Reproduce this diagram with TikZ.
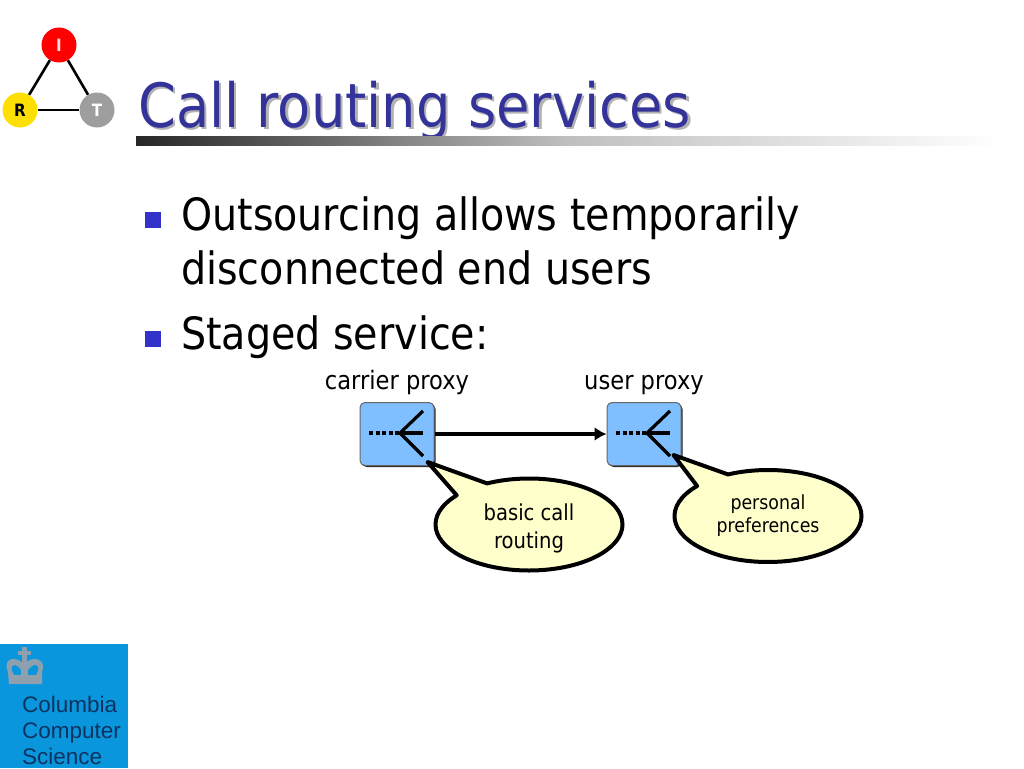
\documentclass[tikz,border=0pt]{standalone}
\usepackage{fontspec}
\setmainfont{DejaVu Sans}[FakeStretch=0.89]
\newfontfamily\logofont{Liberation Sans}
\usepackage{tikz}
\usetikzlibrary{arrows.meta, positioning, shapes.callouts, shapes.geometric, shadows, calc}
\usepackage{xcolor}
\definecolor{slideblue}{HTML}{333399}
\definecolor{bulletblue}{HTML}{3333CC}
\definecolor{proxyblue}{HTML}{80BFFF}
\definecolor{noteyellow}{HTML}{FFFFCC}
\definecolor{logoblue}{HTML}{0A96DC}
\definecolor{logotext}{HTML}{0C3360}
\definecolor{crowngrey}{HTML}{8E9FAE}
\newcommand{\withshadow}[1]{\rlap{\kern2.5pt\raisebox{-2.5pt}{\textcolor{black!30}{#1}}}\textcolor{slideblue}{#1}}

\begin{document}
\begin{tikzpicture}[
    x=1pt, y=-1pt,
    line join=round,
    dot/.style={circle, minimum size=35pt, inner sep=0pt, font=\bfseries\fontsize{17}{17}\selectfont},
    edge/.style={line width=2.6pt},
    headline/.style={anchor=base west, inner sep=0pt, font=\fontsize{61}{61}\selectfont},
    item/.style={anchor=base west, inner sep=0pt, font=\fontsize{44.5}{44.5}\selectfont},
    bullet/.style={fill=bulletblue, minimum size=16pt, inner sep=0pt},
    tag/.style={anchor=base, inner sep=0pt, font=\fontsize{25.4}{25.4}\selectfont},
    proxy/.style={draw=black!60, line width=1pt, rounded corners=5pt, fill=proxyblue,
                  minimum width=74pt, minimum height=63pt, inner sep=0pt,
                  drop shadow={shadow xshift=1.5pt, shadow yshift=-1.5pt, opacity=1, fill=black!85}},
    fork/.style={line width=3.2pt},
    arr/.style={-{Latex[length=12pt, width=14pt]}, line width=3.2pt},
    note/.style={ellipse callout, draw=black, line width=4pt, fill=noteyellow, align=center,
                 minimum width=187pt, minimum height=92pt, inner sep=0pt, callout pointer arc=24},
    logoline/.style={anchor=base west, inner sep=0pt, text=logotext, font=\logofont\fontsize{22.5}{22.5}\selectfont},
]
\useasboundingbox (0,0) rectangle (1024,768);

% logo triangle
\node[dot, fill=red, text=white!85!red] (I) at (59,45) {I};
\node[dot, fill=yellow!82!orange, text=black] (R) at (20,110) {R};
\node[dot, fill=black!38, text=white!85] (T) at (97,110) {T};
\draw[edge] (I) -- (R);
\draw[edge] (I) -- (T);
\draw[edge] (R) -- (T);

% title with its shadow
\node[headline] (title) at (138,127) {\withshadow{Call routing services}};
\fill[left color=black!85, right color=white, middle color=black!25] (136,136) rectangle (1000,145);

% bullets
\node[bullet] (b1) at (153,220) {};
\node[bullet] (b2) at (153,339) {};
\node[item] (line1) at (181,230) {Outsourcing allows temporarily};
\node[item] (line2) at (181,284) {disconnected end users};
\node[item] (line3) at (181,349) {Staged service:};

% proxies
\node[proxy] (carrier) at (397,434) {};
\node[proxy] (user) at (644,434) {};
\node[tag] (carriertag) at (397,389.5) {carrier proxy};
\node[tag] (usertag) at (644,389.5) {user proxy};
\foreach \p in {carrier,user} {
    \draw[fork, dash pattern=on 4pt off 2.5pt] ($(\p.center)+(-28,-1)$) -- ($(\p.center)+(3,-1)$);
    \draw[fork] ($(\p.center)+(26,-23)$) -- ($(\p.center)+(3,-1)$) -- ($(\p.center)+(26,22)$);
    \draw[fork] ($(\p.center)+(3,-1)$) -- ($(\p.center)+(26,-1)$);
}
\draw[arr] (carrier) -- (user);

% notes
\node[note, callout absolute pointer={($(carrier.south east)+(-7,-4)$)}, font=\fontsize{22}{28}\selectfont] (basic) at (529,524.5) {\rule{0pt}{25pt}basic call\\routing};
\node[note, callout absolute pointer={($(user.south east)+(-8,-11)$)}, font=\fontsize{19.5}{23}\selectfont] (personal) at (768,516) {personal\\preferences};

% school logo
\fill[logoblue] (0,644) rectangle (128,768);
\fill[crowngrey] (22,647) rectangle (27,664);
\fill[crowngrey] (18,651) rectangle (31,655);
\fill[crowngrey, even odd rule] (8,672) .. controls (2,660) and (14,654) .. (24,664)
    .. controls (34,654) and (47,660) .. (42,672) -- (42,684) -- (9,684) -- cycle
    (12,671) .. controls (10,664) and (16,662) .. (21,670) -- (21,675) -- (14,675) -- cycle
    (38,671) .. controls (40,664) and (34,662) .. (28,670) -- (28,675) -- (36,675) -- cycle;
\node[logoline] (logoa) at (22,712) {Columbia};
\node[logoline] (logob) at (22,738) {Computer};
\node[logoline] (logoc) at (22,764) {Science};
\end{tikzpicture}
\end{document}
